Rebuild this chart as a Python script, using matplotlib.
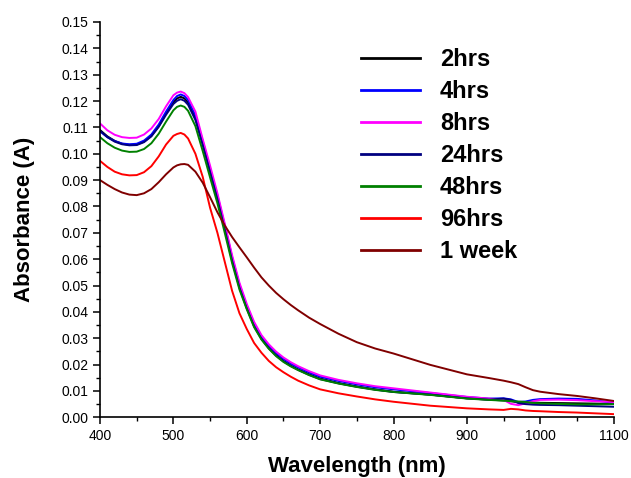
import numpy as np
import matplotlib
matplotlib.use("Agg")
import matplotlib.pyplot as plt
from matplotlib.ticker import MultipleLocator, FormatStrFormatter

plt.rcParams['font.family'] = ['Liberation Sans', 'DejaVu Sans']

# === Data ===
wavelength = [400, 410, 420, 430, 440, 450, 460, 470, 480, 490, 500, 505, 510, 515, 520, 530,
              540, 550, 560, 570, 580, 590, 600, 610, 620, 630, 640, 650, 660, 670, 685, 700,
              725, 750, 775, 800, 850, 900, 930, 950, 960, 970, 980, 990, 1000, 1025,
              1050, 1075, 1100]

abs_2hrs = [.1090, .1066, .1049, .1038, .1034, .1035, .1046, .1068, .1105, .1153, .1196, .1210,
            .1216, .1210, .1195, .1137, .1040, .0937, .0835, .0720, .0600, .0497, .0417, .0349,
            .0300, .0264, .0236, .0214, .0196, .0182, .0163, .0147, .0130, .0117, .0106, .0097,
            .0086, .0072, .0067, .0064, .0061, .0057, .0056, .0056, .0055, .0054, .0053, .0052,
            .0051]

abs_4hrs = [.1085, .1063, .1048, .1039, .1036, .1038, .1050, .1073, .1111, .1160, .1204, .1219,
            .1225, .1219, .1204, .1146, .1048, .0945, .0842, .0728, .0608, .0504, .0424, .0356,
            .0307, .0272, .0244, .0222, .0204, .0190, .0170, .0154, .0138, .0125, .0114, .0106,
            .0092, .0077, .0071, .0072, .0068, .0058, .0060, .0066, .0069, .0071, .0070, .0064,
            .0055]

abs_8hrs = [.1115, .1089, .1072, .1063, .1060, .1061, .1073, .1096, .1132, .1180, .1222, .1232,
            .1236, .1230, .1215, .1160, .1055, .0955, .0850, .0735, .0615, .0511, .0430, .0362,
            .0312, .0277, .0249, .0227, .0209, .0194, .0175, .0159, .0142, .0129, .0118, .0110,
            .0094, .0078, .0071, .0066, .0051, .0046, .0053, .0061, .0066, .0067, .0065, .0061,
            .0058]

abs_24hrs = [.1087, .1063, .1046, .1036, .1032, .1033, .1044, .1066, .1102, .1148, .1189, .1201,
             .1207, .1201, .1186, .1128, .1032, .0930, .0827, .0713, .0594, .0492, .0413, .0345,
             .0297, .0262, .0234, .0212, .0195, .0180, .0161, .0145, .0129, .0116, .0105, .0096,
             .0086, .0072, .0067, .0071, .0066, .0054, .0050, .0048, .0047, .0046, .0044, .0042,
             .0040]

abs_48hrs = [.1063, .1040, .1023, .1012, .1007, .1008, .1018, .1040, .1076, .1122, .1165, .1178,
             .1183, .1178, .1163, .1105, .1010, .0910, .0812, .0700, .0585, .0485, .0410, .0342,
             .0295, .0260, .0232, .0210, .0193, .0179, .0160, .0144, .0128, .0115, .0104, .0096,
             .0085, .0071, .0066, .0063, .0061, .0060, .0058, .0055, .0053, .0051, .0049, .0049,
             .0050]

abs_96hrs = [.0973, .0950, .0932, .0922, .0918, .0919, .0930, .0953, .0990, .1035, .1068, .1075,
             .1079, .1073, .1058, .1000, .0912, .0795, .0700, .0590, .0480, .0395, .0335, .0282,
             .0245, .0214, .0190, .0171, .0154, .0139, .0121, .0106, .0091, .0079, .0068, .0059,
             .0044, .0034, .0030, .0028, .0032, .0030, .0026, .0024, .0023, .0020, .0018, .0015,
             .0012]

abs_1week = [.0900, .0882, .0866, .0853, .0845, .0843, .0850, .0866, .0892, .0922, .0948, .0956,
             .0960, .0961, .0958, .0932, .0890, .0835, .0778, .0728, .0684, .0645, .0607, .0568,
             .0531, .0500, .0472, .0448, .0426, .0406, .0378, .0354, .0317, .0285, .0261, .0242,
             .0199, .0163, .0149, .0139, .0133, .0126, .0114, .0103, .0097, .0088, .0081, .0072,
             .0062]

labels = ['2hrs', '4hrs', '8hrs', '24hrs', '48hrs', '96hrs', '1 week']
series = [abs_2hrs, abs_4hrs, abs_8hrs, abs_24hrs, abs_48hrs, abs_96hrs, abs_1week]
colors = ['#000000', '#0000ff', '#ff00ff', '#000080', '#008000', '#ff0000', '#800000']

# === Figure ===
fig = plt.figure(figsize=(6.31, 4.78), dpi=100)
ax = fig.add_axes([0.1585, 0.127, 0.814, 0.827])

for y, lab, c in zip(series, labels, colors):
    ax.plot(wavelength, y, color=c, lw=1.4, label=lab)

ax.set_xlim(400, 1100)
ax.set_ylim(0, 0.15)
ax.xaxis.set_major_locator(MultipleLocator(100))
ax.xaxis.set_minor_locator(MultipleLocator(50))
ax.yaxis.set_major_locator(MultipleLocator(0.01))
ax.yaxis.set_minor_locator(MultipleLocator(0.005))
ax.yaxis.set_major_formatter(FormatStrFormatter('%.2f'))

for side in ['top', 'right']:
    ax.spines[side].set_visible(False)
for side in ['left', 'bottom']:
    ax.spines[side].set_linewidth(1.2)

ax.tick_params(which='major', direction='out', length=5, width=1.1, labelsize=10)
ax.tick_params(which='minor', direction='out', length=3, width=1.0)

ax.set_xlabel('Wavelength (nm)', fontsize=16, fontweight='bold', labelpad=9)
ax.set_ylabel('Absorbance (A)', fontsize=16, fontweight='bold', labelpad=19)

leg = ax.legend(loc='upper left', bbox_to_anchor=(361 / 631, 1 - 48 / 478),
                bbox_transform=fig.transFigure, frameon=False,
                prop={'weight': 'bold', 'size': 17}, handlelength=2.5,
                handletextpad=0.85, labelspacing=0.38, borderpad=0, borderaxespad=0)
for line in leg.get_lines():
    line.set_linewidth(2.0)

fig.savefig('out.png', dpi=100)
